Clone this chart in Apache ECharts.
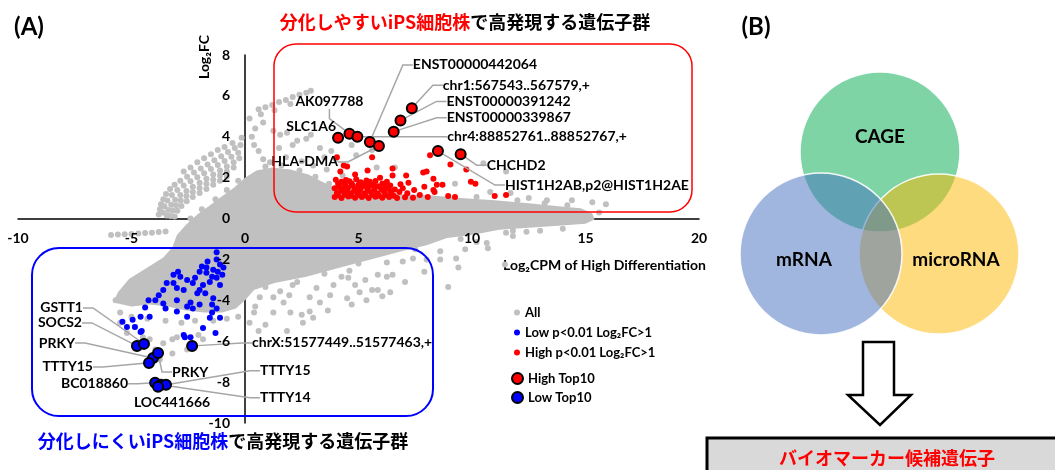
<!DOCTYPE html>
<html>
<head>
<meta charset="utf-8">
<script src="https://cdn.jsdelivr.net/npm/echarts@6/dist/echarts.min.js"></script>
<style>
html, body { margin: 0; padding: 0; background: #fff; }
#main { width: 1055px; height: 470px; }
</style>
</head>
<body>
<div id="main"></div>
<script>
var LAT = "Lato, 'DejaVu Sans', sans-serif"
var CJK = "'Noto Sans CJK JP', sans-serif"
var GRAY = '#c0c0c0'

var xRange = [-10, 20]
var yRange = [-10, 8]

// outline of the dense gray core of all genes (log2CPM, log2FC)
var denseCloud = [[-3.0, -0.8], [-2.6, -0.3], [-2.1, 0.2], [-1.6, 0.6], [-1.0, 1.1], [-0.5, 1.5], [0.0, 2.0], [0.5, 2.35],
    [1.2, 2.5], [2.0, 2.4], [2.8, 2.15], [3.4, 1.8], [4.0, 1.5], [5.0, 1.3], [6.5, 1.2], [8.0, 1.15], [9.5, 1.0], [11.0, 0.9],
    [12.5, 0.75], [13.8, 0.6], [14.8, 0.5], [15.3, 0.25], [15.4, -0.05], [15.0, -0.25], [13.8, -0.35], [12.5, -0.45],
    [11.2, -0.55], [10.0, -0.8], [8.9, -0.95], [8.0, -1.3], [6.9, -1.6], [5.7, -1.95], [4.2, -2.4], [2.7, -2.85], [1.3, -3.15],
    [0.4, -3.5], [0.0, -4.0], [-0.4, -4.4], [-1.0, -4.6], [-1.8, -4.6], [-2.6, -4.5], [-3.4, -4.3], [-4.2, -4.2], [-5.0, -4.3],
    [-5.8, -4.1], [-5.6, -3.6], [-5.1, -2.95], [-4.3, -2.4], [-3.6, -1.9], [-3.2, -1.4]]

// scattered gray genes outside the dense core
var allGenes = [
    [-3.8, 0.2], [-3.75, 0.45], [-3.7, 0.7], [-3.6, 0.95], [-3.48, 1.2], [-3.3, 1.45], [-3.1, 1.65], [-2.85, 1.85], [-2.55, 2.05],
    [-2.25, 2.25], [-1.95, 2.45], [-1.65, 2.65], [-1.35, 2.85], [-1.05, 3.05], [-0.75, 3.25], [-0.45, 3.45], [-0.2, 3.6],
    [-3.62, 0.3], [-3.55, 0.6], [-3.42, 0.88], [-3.22, 1.15], [-2.98, 1.4], [-2.7, 1.62], [-2.4, 1.82], [-2.1, 2.02],
    [-1.8, 2.22], [-1.5, 2.42], [-1.2, 2.62], [-0.9, 2.82], [-0.6, 3.02], [-0.3, 3.22],
    [-3.45, 0.15], [-3.38, 0.42], [-3.25, 0.68], [-3.08, 0.92], [-2.85, 1.15], [-2.58, 1.35], [-2.3, 1.55], [-2.0, 1.75],
    [-1.7, 1.95], [-1.4, 2.15], [-1.1, 2.35], [-0.8, 2.55], [-0.5, 2.75], [-0.25, 2.95],
    [-3.28, 0.12], [-3.18, 0.4], [-3.03, 0.65], [-2.83, 0.88], [-2.58, 1.1], [-2.3, 1.3], [-2.0, 1.5], [-1.7, 1.7], [-1.4, 1.9],
    [-1.1, 2.1], [-0.8, 2.3], [-0.5, 2.5],
    [-3.1, 0.1], [-2.98, 0.38], [-2.8, 0.62], [-2.57, 0.85], [-2.3, 1.05], [-2.0, 1.25], [-1.7, 1.45], [-1.4, 1.65], [-1.1, 1.85], [-0.8, 2.05],
    [-2.7, 2.3], [-2.4, 2.5], [-2.1, 2.75], [-1.8, 2.95], [-1.5, 3.15], [-1.2, 3.35], [-0.9, 3.5], [-0.55, 3.7], [-0.15, 3.95],
    [0.6, 5.35], [0.9, 5.45], [1.2, 5.55], [1.5, 5.7], [1.8, 5.8], [2.1, 5.95], [2.4, 6.05], [2.7, 6.15], [2.9, 6.25],
    [0.7, 5.1], [1.3, 5.3], [2.0, 5.6],
    [0.2, 4.9], [0.45, 4.4], [0.8, 4.7], [1.25, 4.3], [1.55, 4.1], [1.85, 4.2], [2.3, 3.8], [2.7, 3.9], [2.9, 4.1], [1.5, 3.45],
    [2.1, 3.6], [3.3, 3.45], [0.8, 2.9], [1.1, 2.75], [0.4, 3.6], [0.6, 3.3], [0.3, 4.0], [3.5, 3.0], [3.8, 3.3], [4.0, 2.9],
    [4.7, 3.6], [4.9, 3.1], [5.6, 3.35], [5.8, 2.5], [6.6, 2.5], [9.25, 1.7], [10.5, 2.7], [11.5, 2.3], [11.7, 1.25],
    [15.3, 0.8], [15.9, 0.7], [14.4, 0.9], [3.0, 2.6], [2.5, 2.8], [1.8, 3.0], [3.6, 2.4], [4.3, 2.1], [12.5, 1.0], [13.3, 0.9], [10.8, 1.3],
    [0.9, 2.55], [1.6, 2.6], [2.4, 2.35], [3.1, 2.05], [3.7, 1.7], [-0.3, 1.85], [-0.8, 1.4], [-1.3, 0.95], [-1.9, 0.45], [-2.4, 0.0],
    [10.2, 1.05], [12.0, 0.9], [13.2, 0.75], [14.2, 0.65],
    [11.8, -0.85], [12.4, -0.65], [11.5, -0.7], [13.0, -0.6], [14.0, -0.5], [15.6, 0.3],
    [0.45, -4.3], [1.25, -3.85], [1.7, -4.1], [2.0, -4.6], [2.5, -4.7], [2.85, -4.55], [3.3, -4.1], [3.65, -4.5], [3.75, -3.75],
    [4.5, -3.9], [4.7, -4.2], [5.05, -3.6], [5.35, -4.0], [5.6, -3.5], [6.05, -3.8], [6.4, -3.6], [5.85, -3.5], [5.3, -3.0],
    [4.85, -3.25], [4.55, -2.9], [5.85, -2.75], [6.25, -2.85], [6.5, -2.75], [7.05, -3.1], [7.9, -2.6], [6.95, -2.1], [7.4, -1.95],
    [8.0, -2.0], [8.6, -2.0], [9.3, -1.95], [9.4, -2.4], [8.95, -3.35], [10.7, -1.45], [10.65, -1.2], [11.45, -2.25], [10.2, -1.15],
    [9.7, -1.5], [8.6, -1.6], [6.25, -2.15], [4.6, -2.55], [4.25, -2.85], [3.9, -3.25], [3.15, -3.4], [2.85, -3.85], [2.1, -3.25],
    [1.95, -3.75], [1.55, -3.55], [0.9, -3.35], [0.65, -3.85], [3.5, -2.7], [2.3, -3.1], [5.0, -2.2], [7.5, -1.5], [9.5, -1.0], [11.8, -0.6],
    [0.2, -5.1], [0.9, -5.2], [1.25, -4.6], [1.85, -5.5], [2.55, -5.1], [3.0, -4.85],
    [-5.7, -4.0], [-5.5, -4.6], [-5.5, -5.1], [-5.2, -5.6], [-4.85, -5.3], [-4.5, -5.8], [-3.95, -6.4], [-3.6, -6.1], [-3.2, -5.9],
    [-4.2, -5.9], [-4.6, -6.3], [-3.75, -6.9], [-3.2, -6.6], [-3.0, -5.8], [-2.55, -6.4], [-2.05, -5.7], [-1.85, -5.9],
    [-5.0, -4.8], [-4.3, -4.9], [-3.5, -5.0], [-2.8, -5.1], [-2.2, -5.0], [-1.4, -5.0], [-0.8, -4.9], [-0.3, -4.8], [0.4, -4.6], [0.6, -5.5],
    [-5.9, -0.8], [-5.6, -0.78], [-5.3, -0.77], [-5.0, -0.75], [-4.7, -0.73], [-4.4, -0.71], [-4.1, -0.69], [-3.8, -0.66], [-3.5, -0.63]
]

// p<0.01, log2FC>1, higher in the well-differentiating line
var highSig = [
    [3.95, 1.05], [4.25, 1.0], [4.55, 1.08], [4.85, 1.02], [5.15, 1.06], [5.45, 1.0], [5.75, 1.07], [6.05, 1.02], [6.35, 1.05],
    [6.7, 1.0], [7.05, 1.04], [7.4, 1.02], [4.05, 1.25], [4.35, 1.3], [4.65, 1.22], [4.95, 1.28], [5.25, 1.24], [5.55, 1.3],
    [5.85, 1.22], [6.15, 1.27], [6.45, 1.21], [6.8, 1.3], [7.15, 1.24], [3.95, 1.48], [4.25, 1.45], [4.55, 1.52], [4.85, 1.44],
    [5.1, 1.5], [5.4, 1.46], [5.7, 1.53], [6.0, 1.45], [6.3, 1.5], [6.6, 1.42], [6.95, 1.48], [7.45, 1.4], [4.1, 1.7], [4.4, 1.66],
    [4.7, 1.72], [5.0, 1.65], [5.3, 1.7], [5.65, 1.66], [6.05, 1.72], [6.4, 1.62], [6.85, 1.68], [4.0, 1.9], [4.45, 1.88],
    [4.9, 1.92], [5.35, 1.86], [5.75, 1.84], [6.25, 1.8],
    [4.1, 1.14], [4.4, 1.16], [4.7, 1.12], [5.0, 1.15], [5.3, 1.13], [5.6, 1.17], [5.9, 1.12], [6.2, 1.15], [6.55, 1.12],
    [4.2, 1.36], [4.5, 1.38], [4.8, 1.35], [5.05, 1.38], [5.4, 1.36], [5.7, 1.4], [6.1, 1.36], [6.4, 1.35],
    [4.15, 1.58], [4.45, 1.56], [4.75, 1.6], [5.2, 1.58], [5.5, 1.6], [5.85, 1.58], [6.2, 1.56],
    [4.25, 1.8], [4.6, 1.82], [5.1, 1.78], [5.5, 1.8],
    [4.05, 3.0], [4.2, 2.3], [4.5, 2.55], [4.35, 2.6], [5.4, 2.35], [4.85, 2.15], [5.95, 2.0], [6.5, 2.1], [7.1, 2.1], [7.2, 1.75],
    [7.85, 2.25], [7.9, 1.55], [8.3, 1.4], [8.45, 1.65], [8.7, 1.65], [9.05, 2.65], [8.95, 1.1], [9.25, 1.05], [9.75, 2.4],
    [9.95, 1.8], [10.15, 1.7], [11.0, 1.1], [11.5, 1.15], [5.6, 3.0], [8.15, 3.1], [6.5, 2.45], [8.35, 1.3], [8.3, 1.95],
    [8.0, 2.3], [7.7, 1.15], [8.05, 1.05]
]

// p<0.01, log2FC>1, higher in the poorly-differentiating line
var lowSig = [
    [-1.25, -1.65], [-1.9, -2.35], [-1.4, -2.5], [-1.2, -2.6], [-1.1, -2.25], [-1.7, -2.65], [-1.45, -2.85], [-1.25, -2.9],
    [-1.0, -2.75], [-1.55, -3.1], [-1.1, -3.25], [-1.85, -3.25], [-2.2, -2.9], [-2.3, -3.15], [-2.55, -3.0], [-2.85, -2.85],
    [-3.15, -3.15], [-3.0, -3.4], [-2.7, -3.5], [-2.0, -3.5], [-2.1, -3.65], [-1.75, -3.65], [-1.4, -3.9], [-3.0, -4.0],
    [-2.4, -4.1], [-2.55, -4.3], [-2.0, -4.2], [-2.3, -4.4], [-1.45, -4.2], [-1.45, -4.6], [-1.25, -4.4], [-1.55, -4.85],
    [-1.1, -4.85], [-1.3, -5.6], [-3.6, -3.5], [-3.8, -3.75], [-3.95, -4.0], [-3.6, -4.15], [-3.5, -4.4], [-4.25, -4.0],
    [-4.4, -4.35], [-4.6, -4.8], [-4.95, -4.95], [-5.2, -5.3], [-4.85, -5.3], [-4.6, -5.55], [-4.2, -4.8], [-3.0, -4.55],
    [-2.55, -4.8], [-2.65, -5.8], [-2.4, -5.8], [-1.85, -5.35], [-3.15, -2.75], [-2.95, -2.6], [-3.45, -3.15], [-1.7, -2.4],
    [-0.95, -2.4], [-1.25, -2.0], [-1.65, -2.1], [-2.0, -2.6], [-4.55, -5.5], [-5.4, -5.05], [-2.7, -5.7]
]

var highTopNames = ['SLC1A6', 'AK097788', 'chr4:88852761..88852767,+', 'ENST00000442064', 'HLA-DMA',
    'ENST00000339867', 'ENST00000391242', 'chr1:567543..567579,+', 'HIST1H2AB,p2@HIST1H2AE', 'CHCHD2']
var highTopX = [4.1, 4.6, 4.95, 5.5, 5.9, 6.55, 6.85, 7.35, 8.5, 9.5]
var highTopY = [3.95, 4.15, 4.0, 3.75, 3.55, 4.25, 4.8, 5.4, 3.3, 3.15]

var lowTopNames = ['SOCS2', 'GSTT1', 'PRKY', 'PRKY', 'TTTY15', 'chrX:51577449..51577463,+',
    'BC018860', 'TTTY14', 'TTTY15', 'LOC441666']
var lowTopX = [-4.76, -4.45, -4.05, -3.83, -4.23, -2.33, -3.96, -3.70, -3.48, -3.83]
var lowTopY = [-6.23, -6.13, -6.82, -6.58, -7.06, -6.23, -8.03, -8.13, -8.13, -8.23]

// label anchor offsets in px from the point: dx, dy, align, leader line
var highPlace = [[-2, -11, 'right', false], [-20, -32, 'center', true], [90, 0, 'left', true], [43, -77, 'left', true],
    [-41, 16, 'right', true], [53, -14, 'left', true], [46, -19, 'left', true], [31, -23, 'left', true],
    [67, 34, 'left', true], [26, 11, 'left', true]]
var lowPlace = [[-55, -23, 'right', true], [-61, -36, 'right', true], [-78, -15, 'right', true], [14, 19, 'left', true],
    [-56, 4, 'right', true], [60, -3, 'left', true], [-27, 1, 'right', true], [99, 13, 'left', true],
    [94, -14, 'left', true], [14, 16, 'center', false]]

var lowName = 'Low p<0.01 Log₂FC>1'
var highName = 'High p<0.01 Log₂FC>1'

function topSeries(name, color, names, xs, ys, place) {
    var data = []
    for (var i = 0; i < names.length; i++) {
        data.push({name: names[i], value: [xs[i], ys[i]], labelLine: {show: place[i][3]}})
    }
    return {
        type: 'scatter', name: name, data: data, symbolSize: 10, z: 5,
        itemStyle: {color: color, borderColor: '#000', borderWidth: 2, opacity: 1},
        label: {show: true, formatter: '{b}', color: '#000', fontFamily: LAT, fontWeight: 'bold', fontSize: 14},
        labelLine: {show: true, length2: 10, lineStyle: {color: '#a6a6a6', width: 1.5}},
        labelLayout: function (p) {
            var o = place[p.dataIndex]
            return {
                x: p.rect.x + p.rect.width / 2 + o[0],
                y: p.rect.y + p.rect.height / 2 + o[1],
                align: o[2], verticalAlign: 'middle'
            }
        }
    }
}

var W = 1055, H = 470
var box = {left: 18, right: 356, top: 55, bottom: 47}
var boxW = W - box.left - box.right
var boxH = H - box.top - box.bottom
// the label-only axes sit on the zero lines, shifted in from the grid edges
var yLabelShift = -(0 - xRange[0]) / (xRange[1] - xRange[0]) * boxW
var xLabelShift = -(0 - yRange[0]) / (yRange[1] - yRange[0]) * boxH

var axisFont = {color: '#000', fontFamily: LAT, fontWeight: 'bold', fontSize: 14}

var option = {
    animation: false,
    backgroundColor: '#fff',
    grid: {left: box.left, right: box.right, top: box.top, bottom: box.bottom, outerBoundsMode: 'none'},
    xAxis: [{
        type: 'value', min: xRange[0], max: xRange[1], interval: 5, z: 0,
        axisLine: {onZero: true, lineStyle: {color: '#000', width: 1.5}},
        axisTick: {show: false}, axisLabel: {show: false}, splitLine: {show: false}
    }, {
        type: 'value', min: xRange[0], max: xRange[1], interval: 5, z: 10, position: 'bottom', offset: xLabelShift,
        axisLine: {show: false, onZero: false},
        axisTick: {show: false}, splitLine: {show: false},
        axisLabel: Object.assign({margin: 13}, axisFont)
    }],
    yAxis: [{
        type: 'value', min: yRange[0], max: yRange[1], interval: 2, z: 0,
        axisLine: {onZero: true, lineStyle: {color: '#000', width: 1.5}},
        axisTick: {show: false}, axisLabel: {show: false}, splitLine: {show: false}
    }, {
        type: 'value', min: yRange[0], max: yRange[1], interval: 2, z: 10, position: 'left', offset: yLabelShift,
        axisLine: {show: false, onZero: false},
        axisTick: {show: false}, splitLine: {show: false},
        axisLabel: Object.assign({margin: 15}, axisFont)
    }],
    legend: [{
        data: ['All', lowName, highName], orient: 'vertical', left: 509, top: 301,
        itemWidth: 6, itemHeight: 6, itemGap: 7, selectedMode: false,
        textStyle: {color: '#000', fontFamily: LAT, fontWeight: 'bold', fontSize: 13}
    }, {
        data: ['High Top10', 'Low Top10'], orient: 'vertical', left: 506, top: 367,
        itemWidth: 11, itemHeight: 11, itemGap: 6, selectedMode: false,
        textStyle: {color: '#000', fontFamily: LAT, fontWeight: 'bold', fontSize: 13}
    }],
    series: [{
        type: 'custom', name: 'cloud', silent: true, z: 1,
        data: [denseCloud[0]],
        renderItem: function (params, api) {
            var pts = denseCloud.map(function (p) { return api.coord(p) })
            return {type: 'polygon', shape: {points: pts}, style: {fill: GRAY}}
        }
    }, {
        type: 'scatter', name: 'All', data: allGenes, symbolSize: 6, z: 2,
        itemStyle: {color: GRAY, opacity: 1}
    }, {
        type: 'scatter', name: lowName, data: lowSig, symbolSize: 6, z: 3,
        itemStyle: {color: '#0000ff', opacity: 1}
    }, {
        type: 'scatter', name: highName, data: highSig, symbolSize: 6, z: 3,
        itemStyle: {color: '#ff0000', opacity: 1}
    },
        topSeries('High Top10', '#ff0000', highTopNames, highTopX, highTopY, highPlace),
        topSeries('Low Top10', '#0000ff', lowTopNames, lowTopX, lowTopY, lowPlace)
    ],
    graphic: [
        {type: 'text', x: 29, y: 27, style: {text: '(A)', fontFamily: LAT, fontWeight: 'bold', fontSize: 24, fill: '#000', align: 'center', verticalAlign: 'middle'}},
        {type: 'text', x: 756, y: 27, style: {text: '(B)', fontFamily: LAT, fontWeight: 'bold', fontSize: 24, fill: '#000', align: 'center', verticalAlign: 'middle'}},
        {type: 'text', x: 465, y: 22, style: {
            text: '{r|分化しやすいiPS細胞株}{k|で高発現する遺伝子群}', align: 'center', verticalAlign: 'middle',
            rich: {r: {fill: '#ff0000', fontFamily: CJK, fontWeight: 'bold', fontSize: 18},
                k: {fill: '#000', fontFamily: CJK, fontWeight: 'bold', fontSize: 18}}}},
        {type: 'text', x: 223, y: 441, style: {
            text: '{b|分化しにくいiPS細胞株}{k|で高発現する遺伝子群}', align: 'center', verticalAlign: 'middle',
            rich: {b: {fill: '#0000ff', fontFamily: CJK, fontWeight: 'bold', fontSize: 18},
                k: {fill: '#000', fontFamily: CJK, fontWeight: 'bold', fontSize: 18}}}},
        {type: 'text', x: 204, y: 57, rotation: Math.PI / 2, style: {text: 'Log₂FC', fontFamily: LAT, fontWeight: 'bold', fontSize: 14, fill: '#000', align: 'center', verticalAlign: 'middle'}},
        {type: 'text', x: 503, y: 265, style: {text: 'Log₂CPM of High Differentiation', fontFamily: LAT, fontWeight: 'bold', fontSize: 14, fill: '#000', align: 'left', verticalAlign: 'middle'}},
        {type: 'rect', z: 20, shape: {x: 274, y: 44, width: 418, height: 168, r: 22}, style: {fill: 'none', stroke: '#ff0000', lineWidth: 1.5}},
        {type: 'rect', z: 20, shape: {x: 32, y: 248, width: 401, height: 168, r: 27}, style: {fill: 'none', stroke: '#0000ff', lineWidth: 2}},
        {type: 'circle', z: 1, shape: {cx: 880, cy: 152, r: 80}, style: {fill: 'rgba(0,169,77,0.5)', stroke: 'rgba(255,255,255,0.9)', lineWidth: 1.5}},
        {type: 'circle', z: 2, shape: {cx: 939, cy: 254, r: 80}, style: {fill: 'rgba(253,183,0,0.5)', stroke: 'rgba(255,255,255,0.9)', lineWidth: 1.5}},
        {type: 'circle', z: 3, shape: {cx: 821, cy: 254, r: 81}, style: {fill: 'rgba(65,109,191,0.5)', stroke: 'rgba(255,255,255,0.9)', lineWidth: 1.5}},
        {type: 'text', z: 4, x: 880, y: 137, style: {text: 'CAGE', fontFamily: LAT, fontWeight: 'bold', fontSize: 19, fill: '#000', align: 'center', verticalAlign: 'middle'}},
        {type: 'text', z: 4, x: 804, y: 260, style: {text: 'mRNA', fontFamily: LAT, fontWeight: 'bold', fontSize: 19, fill: '#000', align: 'center', verticalAlign: 'middle'}},
        {type: 'text', z: 4, x: 956, y: 260, style: {text: 'microRNA', fontFamily: LAT, fontWeight: 'bold', fontSize: 19, fill: '#000', align: 'center', verticalAlign: 'middle'}},
        {type: 'polygon', z: 4, shape: {points: [[863, 342], [894, 342], [894, 395], [911, 395], [880, 425], [848, 395], [863, 395]]},
            style: {fill: '#fff', stroke: '#000', lineWidth: 2.5}},
        {type: 'rect', z: 4, shape: {x: 707, y: 438, width: 360, height: 40}, style: {fill: '#d9d9d9', stroke: '#000', lineWidth: 3}},
        {type: 'text', z: 5, x: 887, y: 458, style: {text: 'バイオマーカー候補遺伝子', fontFamily: CJK, fontWeight: 'bold', fontSize: 18, fill: '#ff0000', align: 'center', verticalAlign: 'middle'}}
    ]
}

var myChart = echarts.init(document.getElementById('main'))
myChart.setOption(option)
</script>
</body>
</html>
